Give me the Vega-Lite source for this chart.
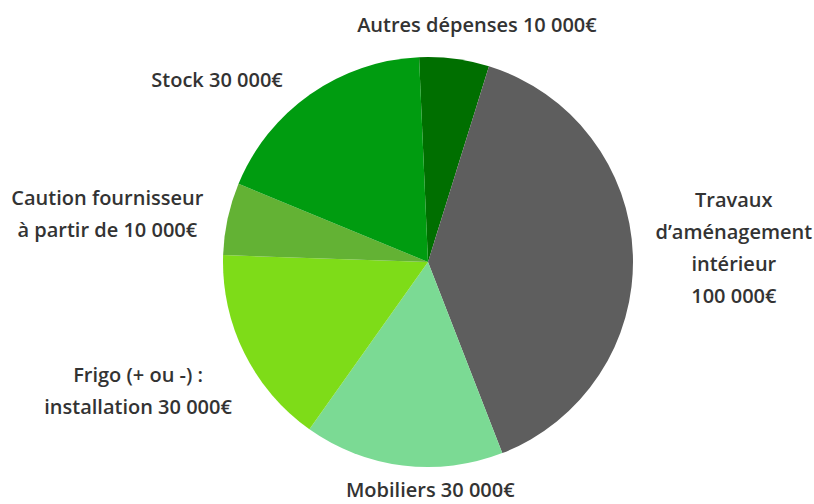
{
  "$schema": "https://vega.github.io/schema/vega-lite/v6.json",
  "autosize": {"type": "none"},
  "padding": 0,
  "width": 856,
  "height": 524,
  "background": "white",
  "config": {"view": {"stroke": null}, "text": {"font": "Open Sans", "fontSize": 20, "fontWeight": 600, "fill": "#333333", "lineBreak": "\n", "lineHeight": 32, "baseline": "middle", "align": "center"}},
  "data": {
    "values": [
      {"order": 1, "cat": "Autres", "value": 14000, "label": "Autres dépenses 10 000€"},
      {"order": 2, "cat": "Travaux", "value": 100000, "label": "Travaux\nd’aménagement\nintérieur\n100 000€"},
      {"order": 3, "cat": "Mobiliers", "value": 40000, "label": "Mobiliers 30 000€"},
      {"order": 4, "cat": "Frigo", "value": 40000, "label": "Frigo (+ ou -) :\ninstallation 30 000€"},
      {"order": 5, "cat": "Caution", "value": 14500, "label": "Caution fournisseur\nà partir de 10 000€"},
      {"order": 6, "cat": "Stock", "value": 46000, "label": "Stock 30 000€"}
    ]
  },
  "encoding": {
    "theta": {"field": "value", "type": "quantitative", "stack": true, "scale": {"range": [-0.0436, 6.2396]}},
    "order": {"field": "order", "type": "quantitative"}
  },
  "layer": [
    {
      "mark": {"type": "arc", "outerRadius": 205},
      "encoding": {
        "color": {
          "field": "cat", "type": "nominal", "legend": null,
          "scale": {
            "domain": ["Autres", "Travaux", "Mobiliers", "Frigo", "Caution", "Stock"],
            "range": ["#006f00", "#5e5e5e", "#7bda94", "#7edc18", "#63b234", "#009c10"]
          }
        }
      }
    },
    {
      "mark": {"type": "text", "radius": 240, "dx": 18, "dy": 2},
      "encoding": {"text": {"condition": {"test": "datum.cat === 'Autres'", "field": "label"}, "value": ""}}
    },
    {
      "mark": {"type": "text", "radius": 306, "dy": -50},
      "encoding": {"text": {"condition": {"test": "datum.cat === 'Travaux'", "field": "label"}, "value": ""}}
    },
    {
      "mark": {"type": "text", "radius": 234, "dx": 31, "dy": -3},
      "encoding": {"text": {"condition": {"test": "datum.cat === 'Mobiliers'", "field": "label"}, "value": ""}}
    },
    {
      "mark": {"type": "text", "radius": 318, "dx": -5, "dy": -27},
      "encoding": {"text": {"condition": {"test": "datum.cat === 'Frigo'", "field": "label"}, "value": ""}}
    },
    {
      "mark": {"type": "text", "radius": 325, "dx": -3, "dy": 6},
      "encoding": {"text": {"condition": {"test": "datum.cat === 'Caution'", "field": "label"}, "value": ""}}
    },
    {
      "mark": {"type": "text", "radius": 270, "dx": -56, "dy": 40},
      "encoding": {"text": {"condition": {"test": "datum.cat === 'Stock'", "field": "label"}, "value": ""}}
    }
  ]
}
